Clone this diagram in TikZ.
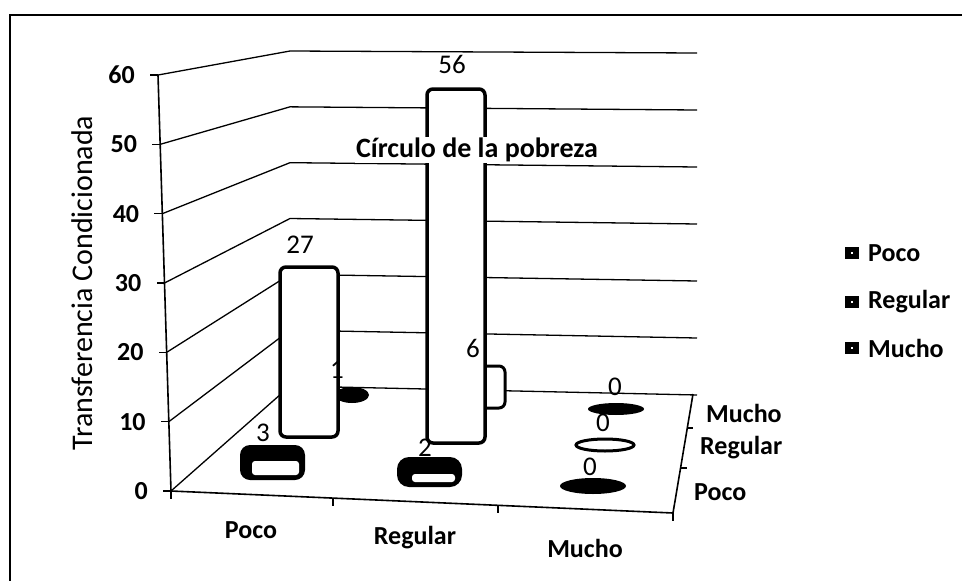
\documentclass[tikz,border=0pt]{standalone}
\usepackage{fontspec}
\setmainfont{Carlito}
\usepackage{tikz}
\usepackage{xcolor}

\begin{document}
\begin{tikzpicture}%
  [x=1pt,y=-1pt,grid line/.style={line width=1.3pt}]
  \tikzstyle{col node}=[draw,line width=3.5pt,fill=white,rounded corners=6pt]
  \tikzstyle{lbl node}=[font=\fontsize{26}{31}\selectfont\bfseries,inner sep=0]
  \tikzstyle{val node}=[font=\fontsize{27}{32}\selectfont,inner sep=0]
  \useasboundingbox (0,0) rectangle (962,581);
  \draw[line width=1.6pt] (10,581) -- (10,15) -- (962,15);
  % walls, grid and value axis
  \foreach \v in {0,10,...,60}{
    \coordinate (l\v) at ({171-13/60*\v},{491-416/60*\v});
    \draw[grid line] (l\v) -- (290,{386-335/60*\v}) -- (697,{395-342/60*\v});
    \draw[line width=1.4pt] (l\v) -- ++(-8,0);
    \node[lbl node,anchor=east] (t\v) at ([xshift=-23pt]l\v) {\v};
  }
  \draw[line width=1.6pt] (l60) -- (l0) -- (673,513) -- (693,394);
  \foreach \x/\y in {171/491,333/498,498/505,673/513}
    \draw[line width=1.4pt] (\x,\y) -- ++(0,8);
  \draw[line width=1.4pt] (681,468) -- ++(6,0) (687,428) -- ++(6,0);
  % back row (Mucho)
  \fill (352,395) ellipse [x radius=17pt,y radius=8pt];
  \draw[col node,line width=3pt] (468,366) rectangle (505,408);
  \fill (616,409) ellipse [x radius=28pt,y radius=6pt];
  % middle row (Regular)
  \draw[col node] (280,267) rectangle (338,437);
  \draw[col node] (427,89) rectangle (485,443);
  \draw[line width=3pt] (605,445) ellipse [x radius=29pt,y radius=6pt];
  % front row (Poco)
  \fill[rounded corners=10pt] (240,445) rectangle (305,480);
  \fill[white,rounded corners=3pt] (252,461) rectangle (299,475);
  \fill[rounded corners=12pt] (397,457) rectangle (462,487);
  \fill[white,rounded corners=3pt] (412,474) rectangle (455,482);
  \fill (593,486) ellipse [x radius=33pt,y radius=8pt];
  % data labels
  \node[val node] (v27) at (300,245) {27};
  \node[val node] (v56) at (452,64) {56};
  \node[val node] (v1) at (337,370) {1};
  \node[val node] (v6) at (473,348) {6};
  \node[val node] (v3) at (263,433) {3};
  \node[val node] (v2) at (425,448) {2};
  \node[val node] (m0) at (615,387) {0};
  \node[val node] (r0) at (603,423) {0};
  \node[val node] (p0) at (590,467) {0};
  \node[lbl node,fill=white,inner sep=1pt,font=\fontsize{28}{33}\selectfont\bfseries] (title) at (477,150) {Círculo de la pobreza};
  \node[font=\fontsize{30}{35}\selectfont,rotate=90] (ytitle) at (82,283) {Transferencia Condicionada};
  % category labels
  \node[lbl node] (cp) at (251,530) {Poco};
  \node[lbl node] (cr) at (415,538) {Regular};
  \node[lbl node] (cm) at (585,548) {Mucho};
  \node[lbl node,anchor=west] (dm) at (706,413) {Mucho};
  \node[lbl node,anchor=west] (dr) at (700,448) {Regular};
  \node[lbl node,anchor=west] (dp) at (694,492) {Poco};
  % legend
  \foreach \n/\t/\y in {lp/Poco/253,lr/Regular/302,lm/Mucho/348}{
    \fill (845,\y-6) rectangle (859,\y+6);
    \fill[white] (851,\y-1) rectangle (853,\y+1);
    \node[lbl node,anchor=west] (\n) at (868,\y) {\t};
  }
\end{tikzpicture}
\end{document}
